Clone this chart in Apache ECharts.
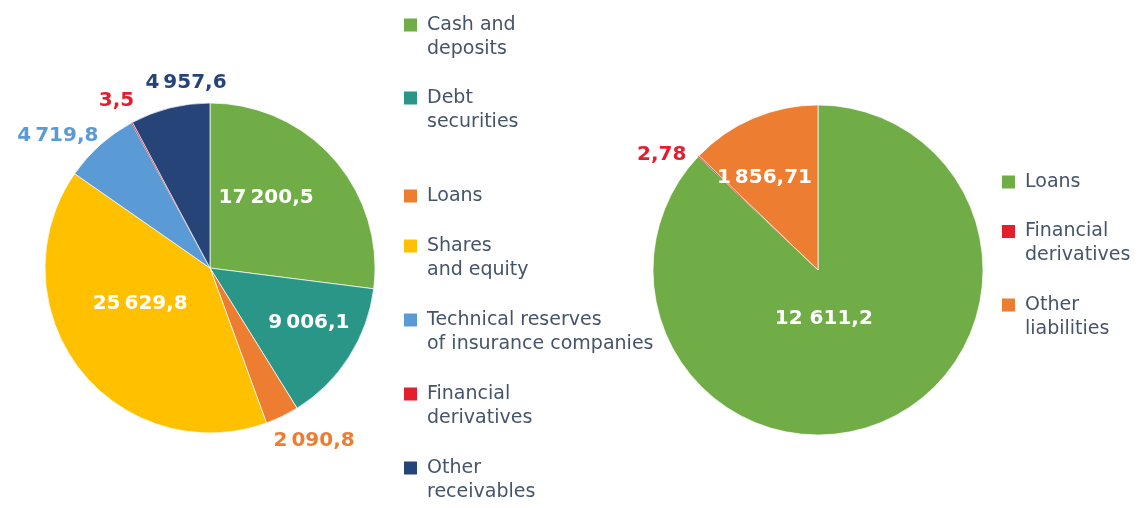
<!DOCTYPE html>
<html>
<head>
<meta charset="utf-8">
<script src="https://cdn.jsdelivr.net/npm/echarts@6/dist/echarts.min.js"></script>
<style>
html,body{margin:0;padding:0;background:#fff;}
#c{width:1144px;height:508px;}
</style>
</head>
<body>
<div id="c"></div>
<script>
// ---- data ----
const LEFT_NAMES = ['Cash and\ndeposits', 'Debt\nsecurities', 'Loans', 'Shares\nand equity',
  'Technical reserves\nof insurance companies', 'Financial\nderivatives', 'Other\nreceivables'];
const LEFT_VALUES = [17200.5, 9006.1, 2090.8, 25629.8, 4719.8, 3.5, 4957.6];
const RIGHT_NAMES = ['Loans', 'Financial\nderivatives', 'Other\nliabilities'];
const RIGHT_VALUES = [12611.2, 2.78, 1856.71];

// ---- styles ----
const FONT = 'Verdana, "DejaVu Sans", sans-serif';
const TEXT_COLOR = '#44546A';
const LEFT_COLORS = ['#70AD47', '#2A9687', '#ED7D31', '#FFC000', '#5B9BD5', '#E31E2D', '#264478'];
const RIGHT_COLORS = ['#70AD47', '#E31E2D', '#ED7D31'];
const LEFT_INSIDE = [true, true, false, true, false, false, false];
const RIGHT_INSIDE = [true, false, true];
const LEFT_SEP = ['\u2009', '\u2009', '\u2009', '\u2009', '\u2009', '\u2009', '\u2009'];
const RIGHT_SEP = [' ', '\u2009', '\u2009'];
const LEFT_LABEL_SHIFT = [[-8, -14], [27, 9], [-18, 15], [-2, -16], [10, -2], [12, -13], [64, -15]];
const RIGHT_LABEL_SHIFT = [[-28, -30], [0, 6], [-20, -14]];

function fmt(v, sep) {
  const parts = String(v).split('.');
  const ip = parts[0].replace(/\B(?=(\d{3})+(?!\d))/g, sep);
  return parts[1] ? ip + ',' + parts[1] : ip;
}

function buildData(names, values, colors, inside) {
  const total = values.reduce((a, b) => a + b, 0);
  return values.map((v, i) => ({
    name: names[i],
    value: v,
    itemStyle: { color: colors[i], borderWidth: v / total < 0.005 ? 0 : 0.7 },
    label: {
      position: inside[i] ? 'inside' : 'outside',
      color: inside[i] ? '#ffffff' : colors[i]
    }
  }));
}

function buildRich(colors) {
  const rich = {
    t: { fontFamily: FONT, fontSize: 19, color: TEXT_COLOR, lineHeight: 24, verticalAlign: 'middle' },
    g: { width: 10, height: 13, lineHeight: 24 },
    ind: { width: 23, height: 13, lineHeight: 24 }
  };
  colors.forEach((c, i) => {
    rich['c' + i] = { width: 13, height: 13, backgroundColor: c, lineHeight: 24, verticalAlign: 'middle' };
  });
  return rich;
}

function legendFormatter(names) {
  return function (name) {
    const idx = names.indexOf(name);
    return name.split('\n').map((line, k) =>
      (k === 0 ? '{c' + idx + '|}{g|}' : '{ind|}') + '{t|' + line + '}'
    ).join('\n');
  };
}

function legend(names, colors, subset, left, top, gap) {
  return {
    orient: 'vertical',
    left: left,
    top: top,
    height: 480,
    padding: 0,
    itemGap: gap,
    icon: 'none',
    itemWidth: 0,
    itemHeight: 0,
    selectedMode: false,
    data: subset,
    formatter: legendFormatter(names),
    textStyle: { rich: buildRich(colors), fontFamily: FONT, fontSize: 19, lineHeight: 24, color: TEXT_COLOR }
  };
}

const labelStyle = { fontFamily: FONT, fontSize: 20, fontWeight: 'bold' };

const chart = echarts.init(document.getElementById('c'), null, { renderer: 'canvas' });
chart.setOption({
  animation: false,
  backgroundColor: '#ffffff',
  legend: [
    legend(LEFT_NAMES, LEFT_COLORS, LEFT_NAMES.slice(0, 2), 399, 13, 25),
    legend(LEFT_NAMES, LEFT_COLORS, LEFT_NAMES.slice(2), 399, 184, 26),
    legend(RIGHT_NAMES, RIGHT_COLORS, RIGHT_NAMES, 997, 170, 25.5)
  ],
  series: [
    {
      type: 'pie',
      center: [210, 268],
      radius: [0, 165],
      startAngle: 90,
      clockwise: true,
      minAngle: 0.4,
      avoidLabelOverlap: false,
      itemStyle: { borderColor: '#ffffff' },
      emphasis: { disabled: true },
      label: Object.assign({
        show: true,
        formatter: p => fmt(p.value, LEFT_SEP[p.dataIndex])
      }, labelStyle),
      labelLine: { show: false, length: 10, length2: 0 },
      labelLayout: p => ({ dx: LEFT_LABEL_SHIFT[p.dataIndex][0], dy: LEFT_LABEL_SHIFT[p.dataIndex][1] }),
      data: buildData(LEFT_NAMES, LEFT_VALUES, LEFT_COLORS, LEFT_INSIDE)
    },
    {
      type: 'pie',
      center: [818, 270],
      radius: [0, 165],
      startAngle: 90,
      clockwise: true,
      minAngle: 0.4,
      avoidLabelOverlap: false,
      itemStyle: { borderColor: '#ffffff' },
      emphasis: { disabled: true },
      label: Object.assign({
        show: true,
        formatter: p => fmt(p.value, RIGHT_SEP[p.dataIndex])
      }, labelStyle),
      labelLine: { show: false, length: 10, length2: 0 },
      labelLayout: p => ({ dx: RIGHT_LABEL_SHIFT[p.dataIndex][0], dy: RIGHT_LABEL_SHIFT[p.dataIndex][1] }),
      data: buildData(RIGHT_NAMES, RIGHT_VALUES, RIGHT_COLORS, RIGHT_INSIDE)
    }
  ]
});
</script>
</body>
</html>
